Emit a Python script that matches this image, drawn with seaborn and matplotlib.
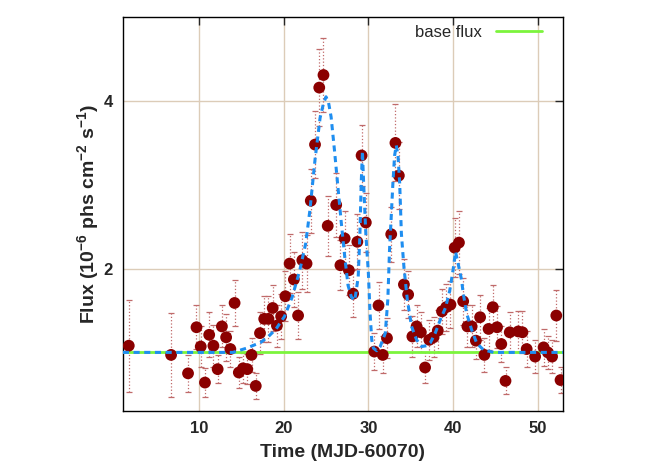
import matplotlib
matplotlib.use("Agg")
import matplotlib.pyplot as plt
import seaborn as sns
import pandas as pd

# observed light curve (MJD-60070, flux in 1e-6 phs/cm2/s)
time = [1.7, 6.7, 8.7, 9.7, 10.2, 10.7, 11.2, 11.7, 12.2, 12.7,
        13.2, 13.7, 14.2, 14.7, 15.2, 15.7, 16.2, 16.7, 17.2, 17.7,
        18.2, 18.7, 19.2, 19.7, 20.2, 20.7, 21.2, 21.7, 22.2, 22.7,
        23.2, 23.7, 24.2, 24.7, 25.2, 26.2, 26.7, 27.2, 27.7, 28.2,
        28.7, 29.2, 29.7, 30.7, 31.2, 31.7, 32.2, 32.7, 33.2, 33.6,
        34.2, 34.7, 35.2, 35.7, 36.2, 36.7, 37.2, 37.7, 38.2, 38.7,
        39.2, 39.7, 40.2, 40.7, 41.2, 41.7, 42.2, 42.7, 43.2, 43.7,
        44.2, 44.7, 45.2, 45.7, 46.2, 46.7, 47.7, 48.2, 48.7, 49.7,
        50.7, 51.2, 51.7, 52.2, 52.7]
flux = [1.08, 0.97, 0.75, 1.30, 1.07, 0.64, 1.21, 1.08, 0.80, 1.31,
        1.18, 1.04, 1.59, 0.76, 0.81, 0.80, 0.97, 0.60, 1.23, 1.40,
        1.40, 1.53, 1.32, 1.43, 1.67, 2.06, 1.87, 1.44, 2.10, 2.06,
        2.81, 3.48, 4.16, 4.31, 2.51, 2.76, 2.04, 2.36, 1.98, 1.70,
        2.32, 3.35, 2.55, 1.01, 1.56, 0.97, 1.17, 2.41, 3.50, 3.11,
        1.81, 1.69, 1.19, 1.31, 1.24, 0.82, 1.15, 1.18, 1.26, 1.49,
        1.54, 1.57, 2.25, 2.31, 1.61, 1.31, 1.31, 1.14, 1.42, 0.97,
        1.28, 1.54, 1.30, 1.10, 0.66, 1.24, 1.25, 1.24, 1.04, 0.95,
        1.06, 1.00, 0.95, 1.44, 0.67]
flux_err = [0.55, 0.50, 0.22, 0.26, 0.24, 0.17, 0.27, 0.25, 0.17, 0.25,
            0.28, 0.22, 0.27, 0.18, 0.18, 0.18, 0.20, 0.16, 0.25, 0.27,
            0.27, 0.28, 0.25, 0.27, 0.30, 0.35, 0.33, 0.28, 0.34, 0.34,
            0.38, 0.40, 0.46, 0.44, 0.36, 0.38, 0.30, 0.33, 0.30, 0.28,
            0.33, 0.36, 0.35, 0.22, 0.28, 0.22, 0.24, 0.33, 0.46, 0.40,
            0.30, 0.28, 0.24, 0.25, 0.24, 0.18, 0.24, 0.24, 0.25, 0.27,
            0.28, 0.28, 0.35, 0.38, 0.28, 0.25, 0.25, 0.22, 0.27, 0.20,
            0.25, 0.27, 0.25, 0.22, 0.16, 0.24, 0.25, 0.25, 0.22, 0.20,
            0.22, 0.20, 0.20, 0.30, 0.16]

# model curve
model_time = [1, 14, 15.6, 17.3, 18.3, 19.1, 20.1, 21.0, 21.9, 22.6,
              23.1, 23.7, 24.3, 24.7, 25.0, 25.3, 25.6, 26.0, 26.4, 26.8,
              27.2, 27.6, 28.0, 28.4, 28.8, 29.0, 29.15, 29.3, 29.45, 29.7,
              30.0, 30.2, 30.4, 30.6, 31.0, 31.4, 32.0, 32.3, 32.5, 32.9,
              33.1, 33.3, 33.5, 33.7, 33.9, 34.2, 34.6, 35.1, 35.7, 36.3,
              36.9, 37.3, 37.9, 38.5, 39.1, 39.6, 40.0, 40.3, 40.6, 41.0,
              41.2, 41.6, 42.2, 42.8, 43.6, 44.8, 53]
model_flux = [1.0, 1.0, 1.05, 1.12, 1.20, 1.28, 1.43, 1.66, 1.98, 2.30,
              2.70, 3.30, 3.80, 3.97, 4.05, 3.98, 3.81, 3.41, 2.98, 2.55,
              2.15, 1.80, 1.66, 1.62, 1.90, 2.40, 3.00, 3.40, 3.00, 2.42,
              1.95, 1.47, 1.15, 1.05, 1.02, 1.07, 1.23, 1.63, 2.22, 3.02,
              3.35, 3.47, 3.35, 3.02, 2.42, 2.02, 1.63, 1.31, 1.15, 1.07,
              1.08, 1.11, 1.23, 1.39, 1.53, 1.73, 1.98, 2.20, 2.06, 1.87,
              1.71, 1.47, 1.27, 1.11, 1.03, 1.00, 1.00]

base_time = [1, 53]
base_flux = [1.0, 1.0]

obs = pd.DataFrame({'time': time, 'flux': flux, 'err': flux_err})
model = pd.DataFrame({'time': model_time, 'flux': model_flux})
base = pd.DataFrame({'time': base_time, 'flux': base_flux})

sns.set_style('white')
plt.rcParams['font.family'] = ['Liberation Sans', 'DejaVu Sans']
plt.rcParams['mathtext.default'] = 'regular'

fig = plt.figure(figsize=(6.64, 4.65), dpi=100)
ax = fig.add_axes([0.185, 0.116, 0.663, 0.847])

# error bars (dotted, gnuplot-like)
eb = ax.errorbar(obs['time'], obs['flux'], yerr=obs['err'], fmt='none',
                 ecolor='#c06a6a', elinewidth=0.9, capsize=2, capthick=0.9,
                 zorder=2)
for line in eb[2]:
    line.set_linestyle(':')

sns.lineplot(data=base, x='time', y='flux', color='#7cf43c', lw=2,
             label='base flux', ax=ax, zorder=3)
sns.scatterplot(data=obs, x='time', y='flux', color='#8b0000', s=72,
                edgecolor='none', ax=ax, zorder=4)
sns.lineplot(data=model, x='time', y='flux', color='#1f8ef0', lw=2.2,
             linestyle=(0, (2, 1.5)), sort=False, estimator=None, ax=ax,
             zorder=5)

ax.set_xlim(1, 53)
ax.set_ylim(0.3, 5.0)
ax.set_xticks([10, 20, 30, 40, 50])
ax.set_yticks([2, 4])
ax.grid(True, color='#dcccb8', lw=1)
ax.set_axisbelow(True)

for s in ax.spines.values():
    s.set_color('black')
    s.set_linewidth(1)
ax.tick_params(direction='in', length=6, width=1, top=True, right=True,
               labelsize=12, pad=7)
for lab in ax.get_xticklabels() + ax.get_yticklabels():
    lab.set_fontweight('bold')

ax.set_xlabel('Time (MJD-60070)', fontsize=14, fontweight='bold', labelpad=6)
ax.set_ylabel('Flux (10$^{-6}$ phs cm$^{-2}$ s$^{-1}$)', fontsize=14,
              fontweight='bold', labelpad=2)

leg = ax.legend(loc='upper right', bbox_to_anchor=(0.968, 0.997),
                frameon=False, markerfirst=False, fontsize=12,
                handlelength=2.8, borderaxespad=0)

fig.savefig('out.png', dpi=100)
